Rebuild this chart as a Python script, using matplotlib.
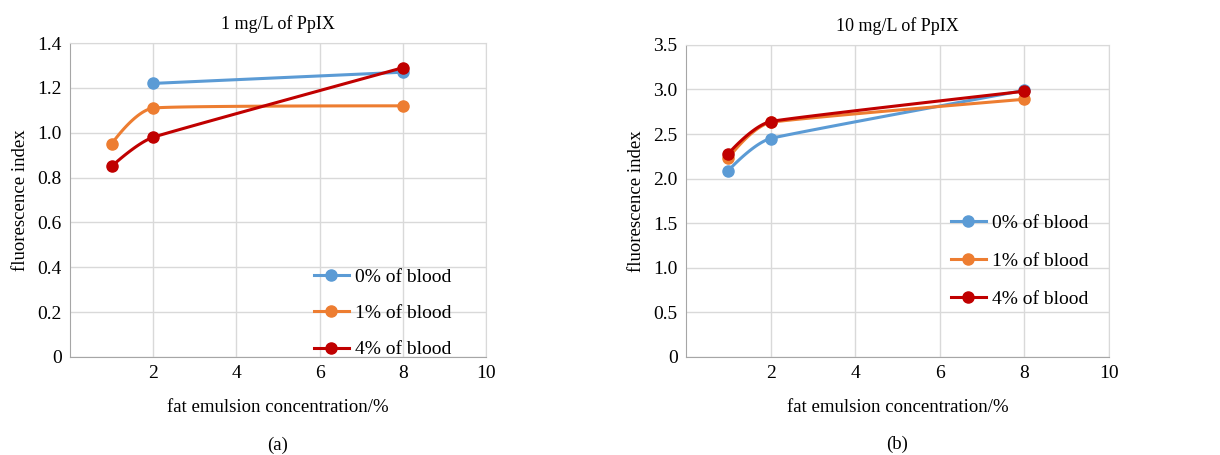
import numpy as np
import matplotlib.pyplot as plt

plt.rcParams['font.family'] = ['Liberation Serif', 'DejaVu Serif']

# Data
fat_conc = [1, 2, 8]
series_labels = ['0% of blood', '1% of blood', '4% of blood']
colors = ['#5B9BD5', '#ED7D31', '#C00000']

# (a) 1 mg/L of PpIX  (0% of blood has no point at 1%)
a_x = [[2, 8], [1, 2, 8], [1, 2, 8]]
a_blood0 = [1.22, 1.27]
a_blood1 = [0.95, 1.11, 1.12]
a_blood4 = [0.85, 0.98, 1.29]

# (b) 10 mg/L of PpIX
b_blood0 = [2.09, 2.45, 2.99]
b_blood1 = [2.23, 2.63, 2.89]
b_blood4 = [2.28, 2.64, 2.98]

a_yticks = [0, 0.2, 0.4, 0.6, 0.8, 1.0, 1.2, 1.4]
a_yticklabels = ['0', '0.2', '0.4', '0.6', '0.8', '1.0', '1.2', '1.4']
b_yticks = [0, 0.5, 1.0, 1.5, 2.0, 2.5, 3.0, 3.5]
b_yticklabels = ['0', '0.5', '1.0', '1.5', '2.0', '2.5', '3.0', '3.5']
xticks = [2, 4, 6, 8, 10]


def smooth(ax, x, y, n=50):
    # smoothed line like Excel's: Bezier segments in display space,
    # tangent length at an inner point limited by its shorter neighbour segment
    pts = ax.transData.transform(np.column_stack([x, y]))
    if len(pts) < 3:
        return np.array(x, float), np.array(y, float)
    m = len(pts)
    seglen = [np.hypot(*(pts[i + 1] - pts[i])) for i in range(m - 1)]
    tang = [np.zeros(2)]
    for i in range(1, m - 1):
        d = pts[i + 1] - pts[i - 1]
        tang.append(d / np.hypot(*d) * min(seglen[i - 1], seglen[i]) / 3)
    tang.append(np.zeros(2))
    t = np.linspace(0, 1, n)[:, None]
    out = []
    for i in range(m - 1):
        p0, p1 = pts[i], pts[i + 1]
        c1 = p0 + tang[i]
        c2 = p1 - tang[i + 1]
        seg = ((1 - t) ** 3) * p0 + 3 * ((1 - t) ** 2) * t * c1 + 3 * (1 - t) * t ** 2 * c2 + t ** 3 * p1
        out.append(seg)
    out = np.vstack(out)
    d = ax.transData.inverted().transform(out)
    return d[:, 0], d[:, 1]


def panel(ax, xs, ys, ylim, yticks, yticklabels, title, caption, legend_anchor, spacing):
    ax.set_xlim(0, 10)
    ax.set_ylim(*ylim)
    for x, y, c, lab in zip(xs, ys, colors, series_labels):
        sx, sy = smooth(ax, x, y)
        ax.plot(sx, sy, color=c, lw=2.2, solid_capstyle='round')
        ax.plot(x, y, 'o', color=c, ms=8)
        ax.plot([], [], '-o', color=c, lw=2.2, ms=8, label=lab)
    ax.set_xticks(xticks)
    ax.set_yticks(yticks)
    ax.set_yticklabels(yticklabels)
    ax.tick_params(length=0, labelsize=14, pad=6)
    ax.grid(True, color='#d9d9d9', lw=1)
    ax.set_axisbelow(True)
    for s in ['top', 'right']:
        ax.spines[s].set_color('#d9d9d9')
    for s in ['left', 'bottom']:
        ax.spines[s].set_color('#a6a6a6')
    ax.set_title(title, fontsize=13, pad=10)
    ax.set_xlabel('fat emulsion concentration/%', fontsize=13.5, labelpad=12)
    ax.set_ylabel('fluorescence index', fontsize=13.5, labelpad=6)
    ax.legend(loc='lower right', bbox_to_anchor=legend_anchor, frameon=False,
              fontsize=14, handlelength=1.8, labelspacing=spacing, handletextpad=0.3)
    ax.text(0.5, -0.28, caption, transform=ax.transAxes, ha='center', va='center', fontsize=13.5)


fig = plt.figure(figsize=(12.2, 4.55), dpi=100)
ax1 = fig.add_axes([0.0574, 0.2154, 0.341, 0.690])
ax2 = fig.add_axes([0.5623, 0.2154, 0.3467, 0.686])

panel(ax1, a_x, [a_blood0, a_blood1, a_blood4], (0, 1.4), a_yticks, a_yticklabels,
      '1 mg/L of PpIX', '(a)', (0.958, -0.06), 0.95)
panel(ax2, [fat_conc] * 3, [b_blood0, b_blood1, b_blood4], (0, 3.5), b_yticks, b_yticklabels,
      '10 mg/L of PpIX', '(b)', (0.992, 0.10), 1.05)

fig.savefig('out.png', dpi=100)
